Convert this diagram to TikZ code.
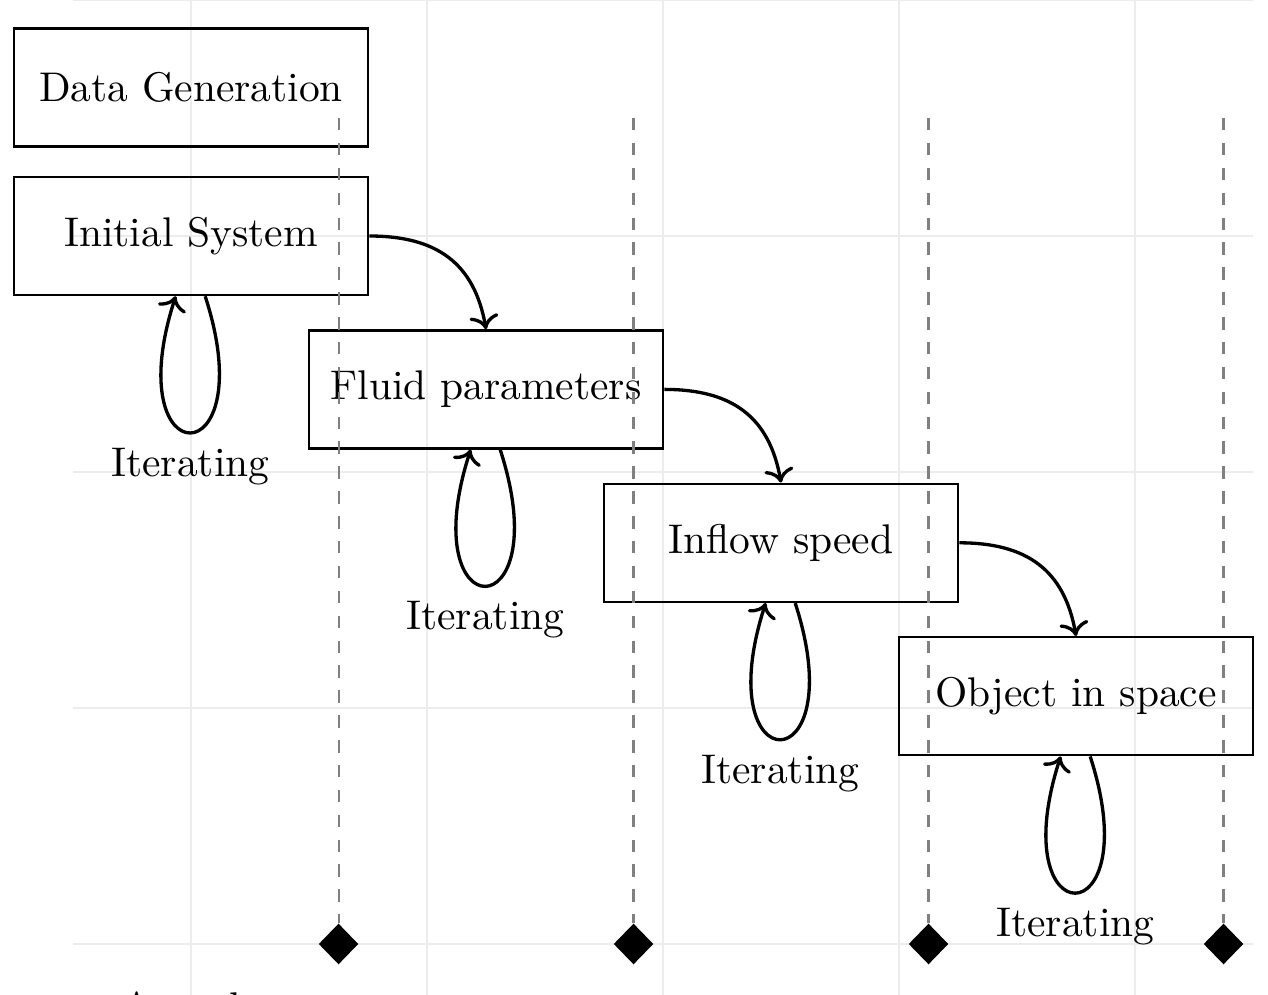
\documentclass[tikz,border=0pt]{standalone}
\usetikzlibrary{shapes.geometric,arrows.meta}
\begin{document}
\begin{tikzpicture}[
  stage/.style={draw, line width=0.6pt, minimum width=3cm, minimum height=1cm, inner sep=2pt},
  flow/.style={->, thick, out=0, in=100, looseness=1.15},
  iter/.style={->, thick, out=-72, in=-108, distance=1.62cm},
  guide/.style={dashed, gray, line width=0.5pt},
  milestone/.style={diamond, fill=black, draw=none, minimum width=0.34cm, minimum height=0.35cm, inner sep=0pt},
]
\useasboundingbox (-1.619,-0.432) rectangle (9.127,8.0);
\draw[gray!15, line width=0.4pt, step=2] (-1,-1) grid (9,8);

\node[stage] (dg) at (0,7.26) {Data Generation};
\node[stage] (is) at (0,6) {Initial System};
\node[stage] (fp) at (2.5,4.7) {Fluid parameters};
\node[stage] (ifs) at (5,3.4) {Inflow speed};
\node[stage] (obj) at (7.5,2.1) {Object in space};

\foreach \x/\n in {1.25/m1, 3.75/m2, 6.25/m3, 8.75/m4}{
  \coordinate (\n t) at (\x,7);
  \node[milestone] (\n) at (\x,0) {};
  \draw[guide] (\n t) -- (\n.north);
}

\draw[flow] (is.east) to (fp.north);
\draw[flow] (fp.east) to (ifs.north);
\draw[flow] (ifs.east) to (obj.north);

\foreach \b in {is, fp, ifs, obj}{
  \draw[iter] ([xshift=0.12cm]\b.south) to node[below] {Iterating} ([xshift=-0.13cm]\b.south);
}

\node[anchor=north west, inner sep=0.117cm] (lab) at (-0.717,-0.285) {Actual};
\end{tikzpicture}
\end{document}
